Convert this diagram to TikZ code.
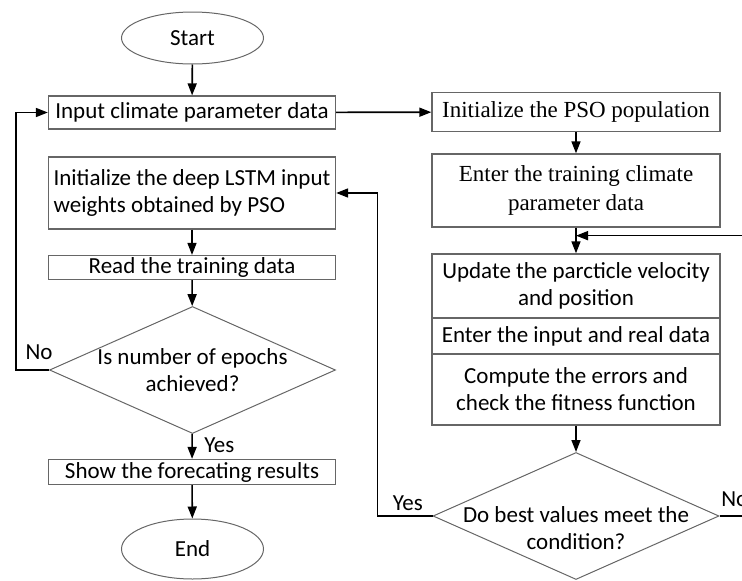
\documentclass[tikz,border=0pt]{standalone}
\usepackage{fontspec}
\setmainfont{Carlito}
\newfontfamily\timesf{Liberation Serif}
\usetikzlibrary{shapes.geometric,arrows.meta}
\begin{document}
\begin{tikzpicture}[x=1pt,y=-1pt,
    font=\fontsize{23}{27}\selectfont,
    blk/.style={draw=black!60,line width=1.3pt,minimum width=287pt,inner sep=2pt,align=center},
    term/.style={ellipse,draw=black!60,line width=1pt,minimum width=142pt},
    dec/.style={diamond,draw=black!60,line width=1pt,inner sep=0pt,minimum width=286pt,minimum height=127pt},
    arr/.style={-{Triangle[length=12pt,width=9pt]},line width=1.6pt}]
  \useasboundingbox (0,0) rectangle (742,581);
  \clip (0,0) rectangle (742,581);
  % left column
  \node[term,minimum height=52pt] (start) at (192.5,38) {Start};
  \node[blk,minimum height=33pt] (input) at (192,112.5) {Input climate parameter data};
  \node[blk,minimum height=72pt,align=left] (lstm) at (192,193)
    {Initialize the deep LSTM input\\weights obtained by PSO};
  \node[blk,minimum height=23pt] (read) at (192,267.5) {Read the training data};
  \node[dec,label={[align=center]center:Is number of epochs\\achieved?}] (q1) at (192.5,370) {};
  \node[blk,minimum height=25pt] (show) at (192,472) {Show the forecating results};
  \node[term,minimum height=60pt] (end) at (192.5,549) {End};
  % right column
  \node[blk,minimum width=288pt,minimum height=39pt,font=\timesf\fontsize{23}{28}\selectfont] (pso) at (576,112)
    {Initialize the PSO population};
  \node[blk,minimum width=288pt,minimum height=73pt,font=\timesf\fontsize{23}{29}\selectfont] (train) at (576,190.5)
    {Enter the training climate\\parameter data};
  \node[blk,minimum width=288pt,minimum height=64pt] (upd) at (576,286)
    {Update the parcticle velocity\\and position};
  \node[blk,minimum width=288pt,minimum height=36pt] (inp) at (576,336) {Enter the input and real data};
  \node[blk,minimum width=288pt,minimum height=71pt] (cmp) at (576,389.5)
    {Compute the errors and\\check the fitness function};
  \node[dec,label={[align=center,yshift=-12pt]center:Do best values meet the\\condition?}] (q2) at (576,516) {};
  % connectors
  \draw[arr] (start)--(input);
  \draw[arr] (input)--(pso);
  \draw[arr] (pso)--(train);
  \draw[arr] (train)--(upd);
  \draw[arr] (cmp)--(q2);
  \draw[arr] (lstm)--(read);
  \draw[arr] (read)--(q1);
  \draw[arr] (q1)--(show) node[pos=.45,right=8pt] (yes1) {Yes};
  \draw[arr] (show)--(end);
  \draw[arr] (q1.west)--++(-33,0) node[pos=.3,above=6pt] (no1) {No} |-(input.west);
  \draw[arr] (q2.west)--++(-55,0) node[pos=.45,above=1pt] (yes2) {Yes} |-(lstm.east);
  \draw[arr] (q2.east)--++(40,0) node[pos=0,anchor=south west,inner sep=1pt,yshift=8pt] (no2) {No} |-([yshift=-8pt]train.south);
\end{tikzpicture}
\end{document}
